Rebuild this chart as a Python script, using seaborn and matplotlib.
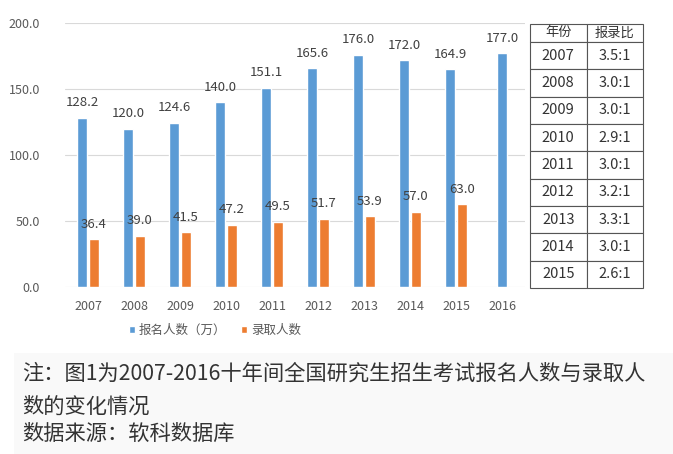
import numpy as np
import pandas as pd
import seaborn as sns
import matplotlib.pyplot as plt
from matplotlib.patches import Rectangle

# --- data ---
years = ["2007", "2008", "2009", "2010", "2011", "2012", "2013", "2014", "2015", "2016"]
applicants = [128.2, 120.0, 124.6, 140.0, 151.1, 165.6, 176.0, 172.0, 164.9, 177.0]
admitted = [36.4, 39.0, 41.5, 47.2, 49.5, 51.7, 53.9, 57.0, 63.0, np.nan]
series_names = ["报名人数（万）", "录取人数"]

ratio_years = ["2007", "2008", "2009", "2010", "2011", "2012", "2013", "2014", "2015"]
ratios = ["3.5:1", "3.0:1", "3.0:1", "2.9:1", "3.0:1", "3.2:1", "3.3:1", "3.0:1", "2.6:1"]
table_header = ["年份", "报录比"]

note_lines = [
    "注：图1为2007-2016十年间全国研究生招生考试报名人数与录取人",
    "数的变化情况",
    "数据来源：软科数据库",
]

colors = ["#5B9BD5", "#ED7D31"]

sns.set_style("white")
plt.rcParams["font.family"] = ["Noto Sans CJK SC", "DejaVu Sans"]

df = pd.DataFrame({
    "year": years * 2,
    "value": applicants + admitted,
    "series": [series_names[0]] * len(years) + [series_names[1]] * len(years),
})

fig = plt.figure(figsize=(6.73, 4.54), dpi=100)

# faint grey band behind the note
fig.patches.append(Rectangle((14 / 673, 0), 1, 1 - 353 / 454, transform=fig.transFigure,
                             facecolor="#f9f9f9", edgecolor="none", zorder=0))

ax = fig.add_axes([65 / 673, 1 - 287 / 454, 460 / 673, 264 / 454])
sns.barplot(data=df, x="year", y="value", hue="series", palette=colors,
            width=0.5, gap=0.15, order=years, hue_order=series_names,
            saturation=1, ax=ax, legend=True)

# 2016 has only one bar: centre it on its tick
last = ax.containers[0][-1]
last.set_x(len(years) - 1 - last.get_width() / 2)

for cont in ax.containers:
    ax.bar_label(cont, fmt="%.1f", padding=6, fontsize=9.5, color="#404040")

ax.set_ylim(0, 200)
ax.set_xlim(-0.5, len(years) - 0.5)
ax.set_yticks([0, 50, 100, 150, 200])
ax.set_yticklabels([f"{v:.1f}" for v in [0, 50, 100, 150, 200]])
ax.yaxis.grid(True, color="#d9d9d9", linewidth=0.8)
ax.set_axisbelow(True)
ax.tick_params(axis="y", length=0, pad=18, labelsize=9, labelcolor="#595959")
ax.tick_params(axis="x", length=0, pad=9, labelsize=9, labelcolor="#595959")
ax.set_xlabel("")
ax.set_ylabel("")
sns.despine(ax=ax, left=True, bottom=True, top=True, right=True)

leg = ax.legend(loc="center", bbox_to_anchor=(215 / 673, 1 - 330 / 454),
                bbox_transform=fig.transFigure, ncol=2, frameon=False,
                fontsize=9, handlelength=0.5, handleheight=0.5,
                handletextpad=0.3, columnspacing=1.2)
for t in leg.get_texts():
    t.set_color("#595959")

# ratio table on the right
tax = fig.add_axes([530 / 673, 1 - 288 / 454, 113 / 673, 264 / 454])
tax.axis("off")
cell_text = [[y, r] for y, r in zip(ratio_years, ratios)]
tbl = tax.table(cellText=cell_text, colLabels=table_header, cellLoc="center",
                bbox=[0, 0, 1, 1])
tbl.auto_set_font_size(False)
for (row, col), cell in tbl.get_celld().items():
    cell.set_height(18 if row == 0 else 27.4)
    cell.set_width(1)
    cell.set_edgecolor("#555555")
    cell.set_linewidth(0.8)
    cell.get_text().set_fontsize(9.5 if row == 0 else 10.5)
    cell.get_text().set_color("#333333")

# note under the chart
for i, line in enumerate(note_lines):
    fig.text(22 / 673, 1 - [374, 407, 434][i] / 454, line, fontsize=15.3,
             color="#333333", va="center", ha="left")

fig.savefig("out.png", dpi=100)
